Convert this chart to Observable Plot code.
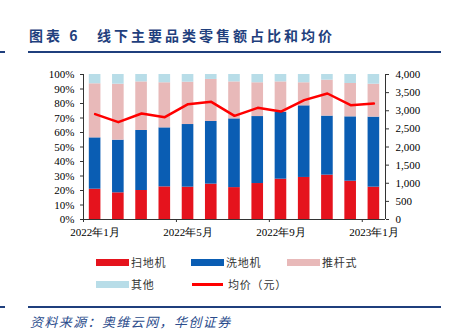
<!DOCTYPE html>
<html>
<head>
<meta charset="utf-8">
<script src="https://cdn.jsdelivr.net/npm/d3@7"></script>
<script src="https://cdn.jsdelivr.net/npm/@observablehq/plot@0.6"></script>
<style>
  html, body { margin: 0; padding: 0; background: #fff; }
  #wrap { position: relative; width: 452px; height: 334px; overflow: hidden; background: #fff; }
  .abs { position: absolute; }
  .title { font-family: "Noto Sans CJK SC", sans-serif; font-weight: bold; font-size: 14px; color: #1f3f7d; letter-spacing: 3px; white-space: nowrap; line-height: 1; }
  .rule { background: #1f3f7d; height: 2px; }
  .leg { font-family: "Noto Sans CJK SC", sans-serif; font-size: 11px; color: #333; letter-spacing: 0.8px; white-space: nowrap; line-height: 1; }
  .src { font-family: "Noto Sans CJK SC", sans-serif; font-style: italic; font-size: 13px; color: #2b4c8c; letter-spacing: 1.4px; white-space: nowrap; line-height: 1; }
  #chart { position: absolute; left: 0; top: 60px; }
</style>
</head>
<body>
<div id="wrap">
  <div class="abs title" style="left:29px; top:28px;">图表 6</div>
  <div class="abs title" style="left:97px; top:28px;">线下主要品类零售额占比和均价</div>
  <div class="abs rule" style="left:0px; top:51px; width:5px;"></div>
  <div class="abs rule" style="left:28px; top:51px; width:413px;"></div>
  <div id="chart"></div>
  <div id="legend"></div>
  <div class="abs rule" style="left:0px; top:306px; width:5px;"></div>
  <div class="abs rule" style="left:28px; top:306px; width:413px;"></div>
  <div class="abs src" style="left:30px; top:315px;">资料来源：奥维云网，华创证券</div>
</div>
<script>
// ---- data ----
const months = ["2022-01","2022-02","2022-03","2022-04","2022-05","2022-06","2022-07","2022-08","2022-09","2022-10","2022-11","2022-12","2023-01"];
const tickIndex = [0, 4, 8, 12];
const tickLabels = ["2022年1月","2022年5月","2022年9月","2023年1月"];
const seriesNames = ["扫地机","洗地机","推杆式","其他"];
const seriesColors = ["#e5131d","#0a5db3","#e8b9b9","#b8dde8"];
const sweeper = [20.9,18.4,20.0,22.5,22.3,24.4,22.0,24.8,27.8,29.0,30.6,26.4,22.3];
const washer  = [35.4,36.3,41.4,40.7,43.2,43.2,47.4,46.2,46.0,49.4,40.7,44.4,48.3];
const stick   = [37.3,38.6,33.5,31.1,29.2,29.0,25.5,23.3,21.1,15.9,24.8,23.0,22.7];
const other   = [6.4,6.7,5.1,5.7,5.3,3.4,5.1,5.7,5.1,5.7,3.9,6.2,6.7];
const price   = [2906,2685,2924,2823,3182,3246,2860,3080,2979,3292,3476,3154,3200];
const lineName = "均价（元）";
const priceMax = 4000;

// ---- build stacked table ----
const seriesVals = [sweeper, washer, stick, other];
const rects = [];
months.forEach((m, i) => {
  let base = 0;
  seriesVals.forEach((vals, s) => {
    rects.push({i, series: seriesNames[s], y1: base, y2: base + vals[i]});
    base += vals[i];
  });
});
const priceRows = months.map((m, i) => ({i, v: price[i] / priceMax * 100}));
const half = 0.25;

const font = "Liberation Serif, Times New Roman, serif";
const chart = Plot.plot({
  width: 452,
  height: 180,
  marginTop: 14,
  marginBottom: 21,
  marginLeft: 83,
  marginRight: 67,
  style: {fontFamily: font, fontSize: "11px", color: "#000", background: "transparent"},
  x: {type: "linear", domain: [-0.5, months.length - 0.5], axis: null, label: null},
  y: {domain: [0, 100], axis: null, label: null},
  color: {domain: seriesNames, range: seriesColors},
  marks: [
    Plot.rect(rects, {x1: d => d.i - half, x2: d => d.i + half, y1: "y1", y2: "y2", fill: "series"}),
    Plot.line(priceRows, {x: "i", y: "v", stroke: "#ff0000", strokeWidth: 2.5}),
    Plot.ruleX([-0.5, months.length - 0.5], {y1: 0, y2: 100, stroke: "#333", strokeWidth: 1}),
    Plot.ruleY([0], {stroke: "#333", strokeWidth: 1}),
    Plot.axisY({anchor: "left", label: null, ticks: d3.range(0, 101, 10), tickFormat: d => d + "%", tickSize: 3, tickPadding: 6, stroke: "#333", fill: "#000", fontSize: 11}),
    Plot.axisY({anchor: "right", label: null, ticks: d3.range(0, 101, 12.5), tickFormat: d => d3.format(",")(Math.round(d / 100 * priceMax)), tickSize: 3, tickPadding: 7, stroke: "#333", fill: "#000", fontSize: 11}),
    Plot.axisX({label: null, ticks: tickIndex, tickFormat: d => tickLabels[tickIndex.indexOf(d)], tickSize: 0, tickPadding: 9, fill: "#000", fontSize: 11}),
    Plot.axisX({label: null, ticks: tickIndex.map(d => d - 0.5), tickFormat: () => "", tickSize: 3, stroke: "#333"})
  ]
});
document.getElementById("chart").appendChild(chart);

// ---- legend ----
const legend = document.getElementById("legend");
const legItems = [
  {label: seriesNames[0], color: seriesColors[0], x: 96, y: 259, type: "sw"},
  {label: seriesNames[1], color: seriesColors[1], x: 191, y: 259, type: "sw"},
  {label: seriesNames[2], color: seriesColors[2], x: 287, y: 259, type: "sw"},
  {label: seriesNames[3], color: seriesColors[3], x: 96, y: 281, type: "sw"},
  {label: lineName, color: "#ff0000", x: 192, y: 281, type: "line"}
];
legItems.forEach(it => {
  const sw = document.createElement("div");
  sw.className = "abs";
  if (it.type === "sw") {
    sw.style.cssText = `left:${it.x}px; top:${it.y}px; width:33px; height:7px; background:${it.color};`;
  } else {
    sw.style.cssText = `left:${it.x}px; top:${it.y + 2}px; width:31px; height:2.5px; background:${it.color};`;
  }
  legend.appendChild(sw);
  const t = document.createElement("div");
  t.className = "abs leg";
  t.style.left = (it.x + (it.type === "sw" ? 35 : 36)) + "px";
  t.style.top = (it.y - 2) + "px";
  t.textContent = it.label;
  legend.appendChild(t);
});
</script>
</body>
</html>
